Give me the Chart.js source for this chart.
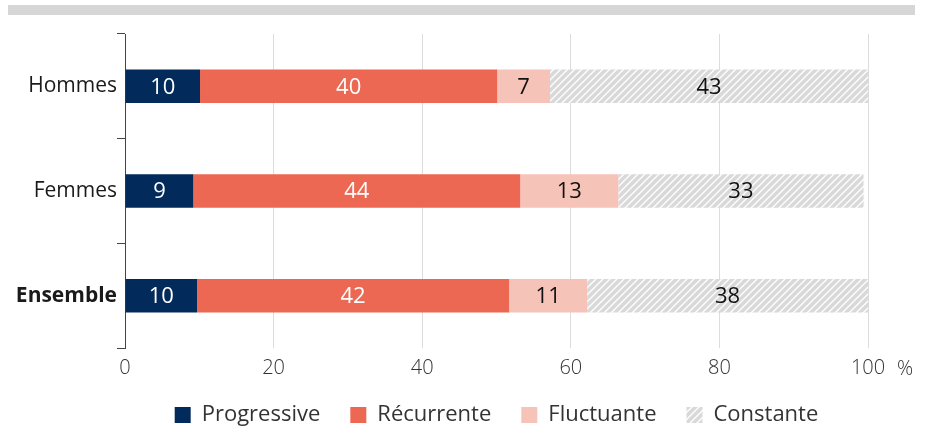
<!DOCTYPE html>
<html lang="fr">
<head>
<meta charset="utf-8">
<script src="https://cdn.jsdelivr.net/npm/chart.js@4"></script>
<style>
  html, body { margin: 0; padding: 0; background: #fff; }
  #wrap { width: 927px; height: 429px; }
</style>
</head>
<body>
<div id="wrap"><canvas id="chart" width="927" height="429"></canvas></div>
<script>
// données (%)
const categories = ['Hommes', 'Femmes', 'Ensemble'];
const progressive = [10.1, 9.2, 9.7];
const recurrente = [40.0, 44.0, 42.0];
const fluctuante = [7.1, 13.2, 10.5];
const constante = [42.8, 33.0, 37.8];
const xTicks = [0, 20, 40, 60, 80, 100];

const FONT = "'Open Sans', 'Noto Sans', sans-serif";

// motif hachuré pour "Constante"
function makeHatch() {
  const c = document.createElement('canvas');
  c.width = 7; c.height = 7;
  const g = c.getContext('2d');
  g.fillStyle = '#d9d9d9';
  g.fillRect(0, 0, 7, 7);
  g.strokeStyle = '#ffffff';
  g.lineWidth = 1.3;
  g.beginPath();
  g.moveTo(-1, 8); g.lineTo(8, -1);
  g.moveTo(-1, 1); g.lineTo(1, -1);
  g.moveTo(6, 8); g.lineTo(8, 6);
  g.stroke();
  return g.createPattern(c, 'repeat');
}
const hatch = makeHatch();

// bandeau gris + unité + étiquettes dans les barres
const decor = {
  id: 'decor',
  beforeDraw(chart) {
    const ctx = chart.ctx;
    ctx.save();
    ctx.fillStyle = '#d5d6d5';
    ctx.fillRect(8, 5, 907, 10);
    ctx.restore();
  },
  afterDatasetsDraw(chart) {
    const ctx = chart.ctx;
    ctx.save();
    ctx.font = '22px ' + FONT;
    ctx.textAlign = 'center';
    ctx.textBaseline = 'middle';
    chart.data.datasets.forEach((ds, i) => {
      const meta = chart.getDatasetMeta(i);
      meta.data.forEach((bar, j) => {
        const v = ds.data[j];
        ctx.fillStyle = ds.labelColor;
        ctx.fillText(Math.round(v), (bar.x + bar.base) / 2, bar.y + 1);
      });
    });
    // unité
    const area = chart.chartArea;
    ctx.font = '300 20px ' + FONT;
    ctx.fillStyle = '#333';
    ctx.textAlign = 'left';
    ctx.fillText('%', area.right + 29, area.bottom + 21);
    ctx.restore();
  }
};

new Chart(document.getElementById('chart'), {
  type: 'bar',
  data: {
    labels: categories,
    datasets: [
      { label: 'Progressive', data: progressive, backgroundColor: '#022a5a', labelColor: '#fff' },
      { label: 'Récurrente', data: recurrente, backgroundColor: '#ec6853', labelColor: '#fff' },
      { label: 'Fluctuante', data: fluctuante, backgroundColor: '#f6c3b8', labelColor: '#111' },
      { label: 'Constante', data: constante, backgroundColor: hatch, labelColor: '#111' }
    ]
  },
  options: {
    indexAxis: 'y',
    responsive: false,
    animation: false,
    datasets: {
      bar: { categoryPercentage: 1, barPercentage: 0.32, borderWidth: 0 }
    },
    layout: { padding: { top: 34, right: 59, left: 0, bottom: 0 } },
    scales: {
      x: {
        stacked: true,
        min: 0,
        max: 100,
        afterBuildTicks(scale) { scale.ticks = xTicks.map(v => ({ value: v })); },
        afterFit(scale) { scale.height = 26; },
        grid: {
          color: ctx => ctx.tick && ctx.tick.value === 0 ? 'rgba(0,0,0,0)' : '#dcdcdc',
          lineWidth: 1,
          drawTicks: false
        },
        border: { display: false },
        ticks: {
          padding: 8,
          color: '#333',
          font: { family: FONT, size: 20, weight: '300' }
        }
      },
      y: {
        stacked: true,
        afterFit(scale) { scale.width = 125; },
        grid: {
          drawOnChartArea: false,
          drawTicks: true,
          tickLength: 8,
          color: '#444',
          offset: true
        },
        border: { display: true, color: '#444', width: 1 },
        ticks: {
          padding: 0,
          color: '#1a1a1a',
          font: ctx => ({ family: FONT, size: 21, weight: ctx.index === 2 ? 'bold' : 'normal' })
        }
      }
    },
    plugins: {
      legend: {
        position: 'bottom',
        fullSize: false,
        maxHeight: 55,
        labels: {
          boxWidth: 16,
          boxHeight: 16,
          padding: 30,
          color: '#333',
          font: { family: FONT, size: 22 }
        }
      },
      tooltip: { enabled: false }
    }
  },
  plugins: [decor]
});
</script>
</body>
</html>
